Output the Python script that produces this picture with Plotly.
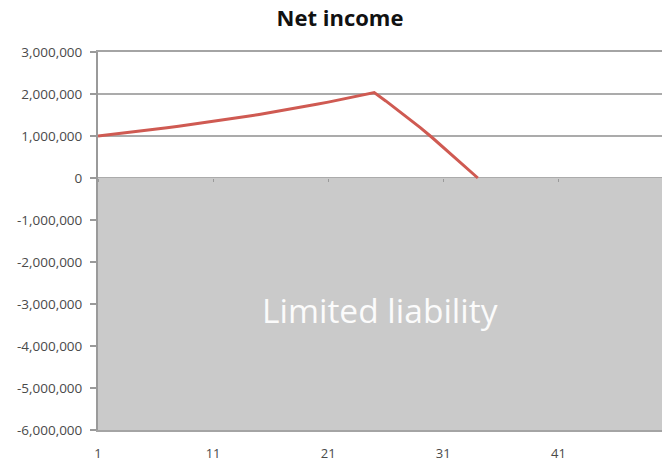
import plotly.graph_objects as go

# Periods on the horizontal axis
periods = list(range(1, 51))

# Net income per period (periods 1-34)
income_periods = list(range(1, 35))
net_income = [
    1000000, 1030000, 1060900, 1092700, 1125500, 1159300, 1194100, 1229900,
    1266800, 1304800, 1343900, 1384200, 1425800, 1468500, 1512600, 1558000,
    1604700, 1652800, 1702400, 1753500, 1806100, 1860300, 1916100, 1973600,
    2032800, 1835000, 1630000, 1420000, 1200000, 970000, 730000, 490000,
    245000, 0,
]

# Limited-liability region: from zero down to the axis floor
liability_top = 0
liability_bottom = -6000000
liability_label = "Limited liability"

# Axis ticks
y_tickvals = [3000000, 2000000, 1000000, 0, -1000000, -2000000, -3000000,
              -4000000, -5000000, -6000000]
y_ticktext = ["3,000,000", "2,000,000", "1,000,000", "0", "-1,000,000",
              "-2,000,000", "-3,000,000", "-4,000,000", "-5,000,000", "-6,000,000"]
x_tickvals = [1, 11, 21, 31, 41]
x_ticktext = ["1", "11", "21", "31", "41"]

fig = go.Figure()

# Grey shaded band below zero
fig.add_trace(go.Scatter(
    x=[periods[0], periods[-1], periods[-1], periods[0], periods[0]],
    y=[liability_top, liability_top, liability_bottom, liability_bottom, liability_top],
    fill="toself", fillcolor="#cacaca", mode="none",
    hoverinfo="skip", showlegend=False,
))

# Net income line
fig.add_trace(go.Scatter(
    x=income_periods, y=net_income, mode="lines",
    line=dict(color="#cf5a52", width=3),
    showlegend=False,
))

# Small tick marks along the zero line
fig.add_trace(go.Scatter(
    x=periods, y=[liability_top] * len(periods), mode="none",
    xaxis="x2", hoverinfo="skip", showlegend=False,
))

fig.add_annotation(
    text=liability_label, xref="paper", x=0.5, yref="y", y=-3150000,
    showarrow=False, xanchor="center", yanchor="middle",
    font=dict(family="Open Sans", size=33.5, color="#fbfbfb"),
)

fig.update_layout(
    width=662, height=465,
    margin=dict(l=98, r=0, t=52, b=35),
    paper_bgcolor="white", plot_bgcolor="white",
    title=dict(
        text="<b>Net income</b>", x=340 / 662, xanchor="center",
        y=1 - 18 / 465, yanchor="middle", yref="container",
        font=dict(family="Open Sans", size=22, color="#111111"),
    ),
    xaxis=dict(
        range=[1, 50], tickvals=x_tickvals, ticktext=x_ticktext,
        showgrid=False, zeroline=False, showline=True, mirror=True,
        linecolor="#a4a4a4", linewidth=2, ticks="",
        tickfont=dict(family="Open Sans", size=13, color="#4a4a4a"),
        ticklabelstandoff=10,
    ),
    xaxis2=dict(
        range=[1, 50], overlaying="x", anchor="free", position=6 / 9,
        tickvals=x_tickvals, showticklabels=False, ticks="outside",
        ticklen=3, tickcolor="#9a9a9a", tickwidth=1,
        showgrid=False, zeroline=False, showline=False,
    ),
    yaxis=dict(
        range=[-6000000, 3000000], tickvals=y_tickvals, ticktext=y_ticktext,
        showgrid=True, gridcolor="#ababab", gridwidth=2,
        zeroline=False, showline=True, linecolor="#9a9a9a", linewidth=2,
        ticks="outside", ticklen=6, tickcolor="#9a9a9a", tickwidth=2,
        tickfont=dict(family="Open Sans", size=13.5, color="#4a4a4a"),
        ticklabelstandoff=5,
    ),
)

fig.write_html("out.html")
